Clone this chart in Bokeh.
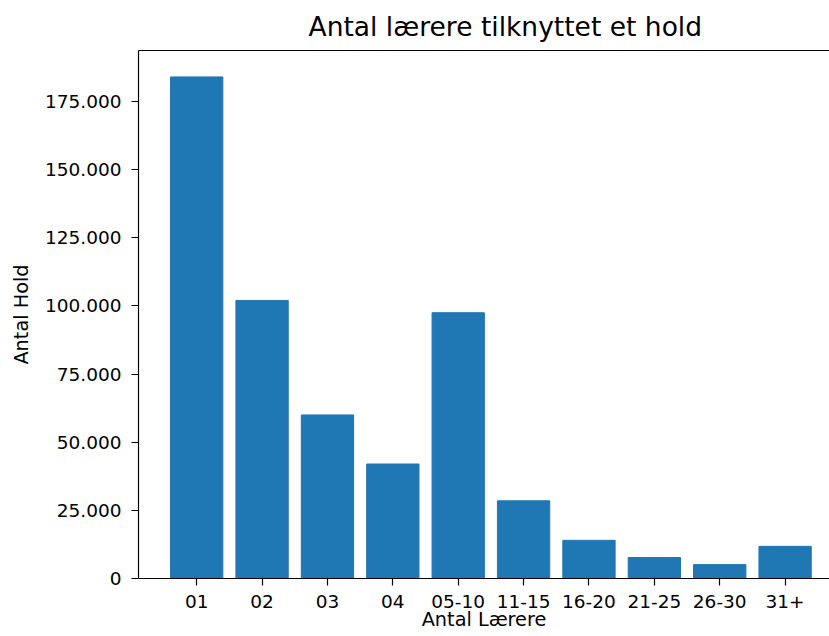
from bokeh.plotting import figure
from bokeh.models import FixedTicker, LinearAxis, Range1d
from bokeh.embed import file_html
from bokeh.resources import INLINE

categories = ["01", "02", "03", "04", "05-10", "11-15", "16-20", "21-25", "26-30", "31+"]
antal_hold = [184000, 102000, 60000, 42000, 97500, 28500, 14000, 7700, 5100, 11800]
y_ticks = [0, 25000, 50000, 75000, 100000, 125000, 150000, 175000]
y_tick_labels = ["0", "25.000", "50.000", "75.000", "100.000", "125.000", "150.000", "175.000"]

FONT = "DejaVu Sans"
x_pos = list(range(len(categories)))

p = figure(width=829, height=636, output_backend="svg", toolbar_location=None,
           x_range=Range1d(-0.89, 9.679), y_range=Range1d(0, 193700),
           min_border_left=138, min_border_right=0, min_border_top=49, min_border_bottom=58,
           background_fill_color="white", border_fill_color="white")
p.outline_line_color = None
p.grid.visible = False

p.vbar(x=x_pos, top=antal_hold, width=0.8, fill_color="#1f77b4", line_color="#1f77b4")

p.title.text = "Antal lærere tilknyttet et hold"
p.title.align = "left"
p.title.offset = 170
p.title.text_font = FONT
p.title.text_font_size = "26.5px"
p.title.text_font_style = "normal"
p.title.text_color = "black"
p.title.standoff = 17

for ax in (p.xaxis[0], p.yaxis[0]):
    ax.axis_line_color = "black"
    ax.axis_line_width = 1.2
    ax.major_tick_line_color = "black"
    ax.major_tick_line_width = 1.2
    ax.major_tick_out = 7
    ax.major_tick_in = 0
    ax.minor_tick_line_color = None
    ax.major_label_text_font = FONT
    ax.major_label_text_font_size = "18.5px"
    ax.major_label_text_color = "black"
    ax.axis_label_text_font = FONT
    ax.axis_label_text_font_size = "19.3px"
    ax.axis_label_text_font_style = "normal"
    ax.axis_label_text_color = "black"

p.xaxis.ticker = FixedTicker(ticks=x_pos)
p.xaxis.major_label_overrides = {i: c for i, c in zip(x_pos, categories)}
p.xaxis.major_label_standoff = 9
p.xaxis.axis_label = "Antal Lærere"
p.xaxis.axis_label_standoff = -3

p.yaxis.ticker = FixedTicker(ticks=y_ticks)
p.yaxis.major_label_overrides = {t: l for t, l in zip(y_ticks, y_tick_labels)}
p.yaxis.axis_label = "Antal Hold"
p.yaxis.major_label_standoff = 10
p.yaxis.axis_label_standoff = 9

top_axis = LinearAxis(ticker=FixedTicker(ticks=[]), major_tick_out=0, major_tick_in=0,
                      minor_tick_line_color=None, major_label_text_font_size="0px",
                      axis_line_color="black", axis_line_width=1.2)
p.add_layout(top_axis, "above")

open("out.html", "w").write(file_html(p, INLINE))
